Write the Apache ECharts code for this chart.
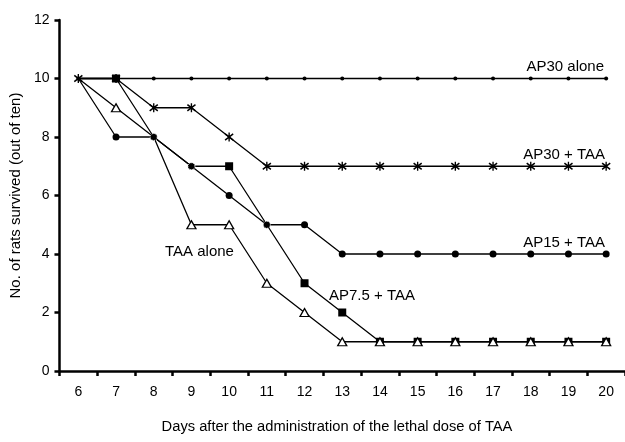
<!DOCTYPE html>
<html>
<head>
<meta charset="utf-8">
<script src="https://cdn.jsdelivr.net/npm/echarts@6/dist/echarts.min.js"></script>
<style>
html,body{margin:0;padding:0;background:#fff;}
#chart{width:625px;height:442px;}
</style>
</head>
<body>
<div id="chart"></div>
<script>
// ---- data ----
var days = ['6','7','8','9','10','11','12','13','14','15','16','17','18','19','20'];
var yTicks = [0, 2, 4, 6, 8, 10, 12];
var ap30Alone = [10,10,10,10,10,10,10,10,10,10,10,10,10,10,10];
var ap30Taa   = [10,10,9,9,8,7,7,7,7,7,7,7,7,7,7];
var ap15Taa   = [10,8,8,7,6,5,5,4,4,4,4,4,4,4,4];
var ap75Taa   = [10,10,8,7,7,5,3,2,1,1,1,1,1,1,1];
var taaAlone  = [10,9,8,5,5,3,2,1,1,1,1,1,1,1,1];
var seriesNames = ['AP30 alone','AP30 + TAA','AP15 + TAA','AP7.5 + TAA','TAA alone'];

var FONT = '"Liberation Sans", Arial, sans-serif';
var asterisk = 'path://M8.5,0L11.5,0L11.5,20L8.5,20Z M2.1,1.6L20,15.5L18,18.4L0,4.5Z M18,1.6L20,4.5L2,18.4L0,15.5Z';

// hide markers that sit under the AP15 circle / start point at the same position
function withHidden(vals) {
  return vals.map(function (v, i) {
    if (ap15Taa[i] === v) return { value: v, symbol: 'none' };
    return v;
  });
}
// circles that cover another series' point get a dotted white ring
function ringed(vals) {
  return vals.map(function (v, i) {
    if (i === 0) return { value: v, symbol: 'none' };
    if (ap75Taa[i] === v || taaAlone[i] === v) {
      return { value: v, itemStyle: { borderColor: '#fff', borderWidth: 1, borderType: 'dotted' } };
    }
    return v;
  });
}

var lineStyle = { color: '#000', width: 1.3 };

var chart = echarts.init(document.getElementById('chart'), null, { renderer: 'canvas' });
chart.setOption({
  backgroundColor: '#fff',
  animation: false,
  grid: { left: 53.3, right: -6.9, top: 20, bottom: 71, containLabel: false },
  xAxis: {
    type: 'category',
    data: days,
    boundaryGap: true,
    axisLine: { lineStyle: { color: '#000', width: 2.5 } },
    axisTick: { show: true, length: 5, lineStyle: { color: '#000', width: 2.5 }, alignWithLabel: false },
    axisLabel: { color: '#000', fontSize: 14, fontFamily: FONT, margin: 14 },
    splitLine: { show: false }
  },
  yAxis: {
    type: 'value',
    min: yTicks[0],
    max: yTicks[yTicks.length - 1],
    interval: 2,
    name: 'No. of rats survived (out of ten)',
    nameLocation: 'middle',
    nameGap: 25,
    nameTextStyle: { color: '#000', fontSize: 15, fontFamily: FONT },
    axisLine: { show: true, lineStyle: { color: '#000', width: 2.5 } },
    axisTick: { show: true, length: 5, lineStyle: { color: '#000', width: 2.5 } },
    axisLabel: { color: '#000', fontSize: 14, fontFamily: FONT, margin: 10 },
    splitLine: { show: false }
  },
  series: [
    {
      name: seriesNames[0], type: 'line', data: ap30Alone,
      symbol: 'circle', symbolSize: 4, showAllSymbol: true,
      itemStyle: { color: '#000' }, lineStyle: lineStyle, z: 2
    },
    {
      name: seriesNames[3], type: 'line', data: withHidden(ap75Taa),
      symbol: 'rect', symbolSize: 8, showAllSymbol: true,
      itemStyle: { color: '#000' }, lineStyle: lineStyle, z: 3
    },
    {
      name: seriesNames[4], type: 'line', data: withHidden(taaAlone),
      symbol: 'triangle', symbolSize: [9, 8], showAllSymbol: true,
      itemStyle: { color: '#fff', borderColor: '#000', borderWidth: 1.3 }, lineStyle: lineStyle, z: 4
    },
    {
      name: seriesNames[2], type: 'line', data: ringed(ap15Taa),
      symbol: 'circle', symbolSize: 7, showAllSymbol: true,
      itemStyle: { color: '#000' }, lineStyle: lineStyle, z: 5
    },
    {
      name: seriesNames[1], type: 'line', data: ap30Taa,
      symbol: asterisk, symbolSize: 9, showAllSymbol: true,
      itemStyle: { color: '#000', borderWidth: 0 }, lineStyle: lineStyle, z: 6
    }
  ],
  graphic: [
    { type: 'text', x: 604, y: 67, style: { text: seriesNames[0], fill: '#000', font: '15px ' + FONT, textAlign: 'right', textVerticalAlign: 'middle' } },
    { type: 'text', x: 605, y: 155, style: { text: seriesNames[1], fill: '#000', font: '15px ' + FONT, textAlign: 'right', textVerticalAlign: 'middle' } },
    { type: 'text', x: 605, y: 243, style: { text: seriesNames[2], fill: '#000', font: '15px ' + FONT, textAlign: 'right', textVerticalAlign: 'middle' } },
    { type: 'text', x: 165, y: 252, style: { text: seriesNames[4], fill: '#000', font: '15px ' + FONT, textAlign: 'left', textVerticalAlign: 'middle' } },
    { type: 'text', x: 329, y: 296, style: { text: seriesNames[3], fill: '#000', font: '15px ' + FONT, textAlign: 'left', textVerticalAlign: 'middle' } },
    { type: 'text', x: 337, y: 427, style: { text: 'Days after the administration of the lethal dose of TAA', fill: '#000', font: '14.7px ' + FONT, textAlign: 'center', textVerticalAlign: 'middle' } }
  ]
});
</script>
</body>
</html>
